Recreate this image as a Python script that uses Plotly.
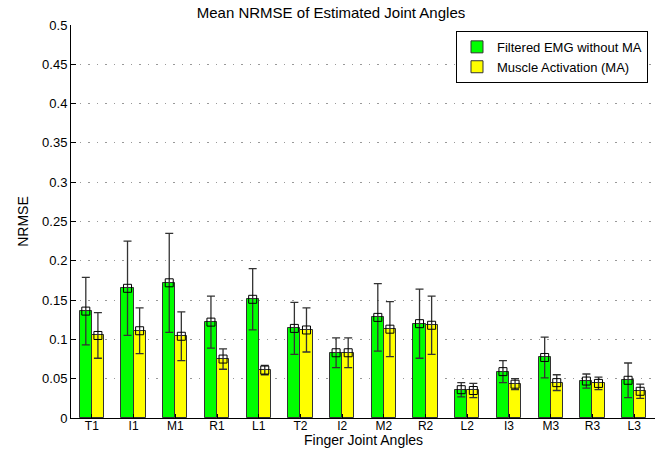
import plotly.graph_objects as go

categories = ["T1", "I1", "M1", "R1", "L1", "T2", "I2", "M2", "R2", "L2", "I3", "M3", "R3", "L3"]
emg_mean = [0.136, 0.165, 0.172, 0.122, 0.151, 0.114, 0.083, 0.128, 0.120, 0.036, 0.059, 0.077, 0.047, 0.048]
emg_err = [0.043, 0.060, 0.063, 0.033, 0.039, 0.033, 0.019, 0.043, 0.044, 0.009, 0.014, 0.026, 0.009, 0.022]
ma_mean = [0.105, 0.111, 0.104, 0.075, 0.061, 0.112, 0.083, 0.113, 0.118, 0.035, 0.043, 0.045, 0.044, 0.034]
ma_err = [0.029, 0.029, 0.031, 0.013, 0.006, 0.028, 0.019, 0.035, 0.037, 0.009, 0.007, 0.010, 0.008, 0.009]
y_ticks = [0, 0.05, 0.1, 0.15, 0.2, 0.25, 0.3, 0.35, 0.4, 0.45, 0.5]

pos = list(range(1, len(categories) + 1))
bw = 0.29
font = "Liberation Sans, Arial, sans-serif"

fig = go.Figure()
fig.add_trace(go.Bar(
    x=pos, y=emg_mean, width=bw, offset=-bw, name="Filtered EMG without MA",
    marker=dict(color="#00FF00", line=dict(color="#333333", width=1)),
    error_y=dict(type="data", array=emg_err, color="#333333", thickness=1.3, width=4),
))
fig.add_trace(go.Bar(
    x=pos, y=ma_mean, width=bw, offset=0, name="Muscle Activation (MA)",
    marker=dict(color="#FFFF00", line=dict(color="#333333", width=1)),
    error_y=dict(type="data", array=ma_err, color="#333333", thickness=1.3, width=4),
))
fig.add_trace(go.Scatter(
    x=[p - bw / 2 for p in pos], y=emg_mean, mode="markers", showlegend=False,
    marker=dict(symbol="square-open", size=8, color="#000000", line=dict(width=1)),
    hoverinfo="skip",
))
fig.add_trace(go.Scatter(
    x=[p + bw / 2 for p in pos], y=ma_mean, mode="markers", showlegend=False,
    marker=dict(symbol="square-open", size=8, color="#000000", line=dict(width=1)),
    hoverinfo="skip",
))

fig.update_layout(
    width=662, height=449,
    margin=dict(l=71, r=7, t=25, b=31),
    paper_bgcolor="white", plot_bgcolor="white",
    font=dict(family=font, size=13, color="black"),
    title=dict(text="Mean NRMSE of Estimated Joint Angles", x=0.5, xref="container", xanchor="center",
               y=1 - 13 / 449, yref="container", yanchor="middle", font=dict(size=15)),
    showlegend=True,
    legend=dict(x=0.988, y=0.985, xanchor="right", yanchor="top",
                bordercolor="black", borderwidth=1, bgcolor="white",
                font=dict(size=13), tracegroupgap=0, itemwidth=30),
    bargap=0,
    annotations=[dict(text="Finger Joint Angles", xref="paper", yref="paper", x=0.5, y=-22 / 393,
                      xanchor="center", yanchor="middle", showarrow=False, font=dict(size=14),
                      borderpad=0)],
)
fig.update_xaxes(
    range=[0.5, 14.5], tickvals=pos, ticktext=categories,
    showline=True, linecolor="black", linewidth=1, mirror=False,
    ticks="inside", ticklen=4, tickcolor="black", showgrid=False, zeroline=False,
    tickfont=dict(size=12), ticklabelstandoff=-3,
)
fig.update_yaxes(
    range=[0, 0.5], tickvals=y_ticks, ticktext=[f"{v:g}" for v in y_ticks],
    showline=True, linecolor="black", linewidth=1,
    ticks="inside", ticklen=5, tickcolor="black",
    showgrid=True, gridcolor="#999999", griddash="1.5px,7px", gridwidth=1, zeroline=False,
    title=dict(text="NRMSE", font=dict(size=14), standoff=10),
    tickfont=dict(size=13),
)

fig.write_html("out.html", config={"displayModeBar": False},
               post_script="document.body.style.margin='0';")
